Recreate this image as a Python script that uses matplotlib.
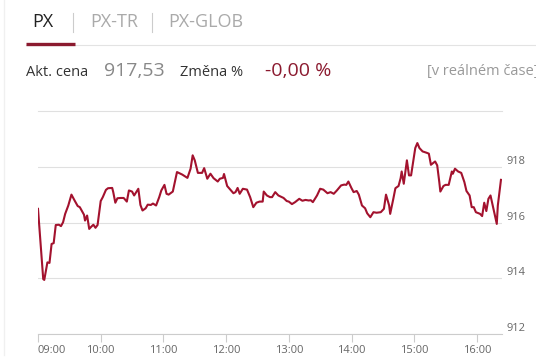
import matplotlib
matplotlib.use("Agg")
import matplotlib.pyplot as plt
from matplotlib.lines import Line2D

# ----------------------------
# Data (minutes after 09:00, index value)
# ----------------------------
minutes = [0, 5, 6, 9, 11, 13, 15, 17, 20, 22, 24, 26, 29, 32, 35, 38, 40, 44, 45, 47,
           49, 51, 53, 55, 57, 60, 62, 65, 67, 71, 72, 74, 76, 79, 82, 85, 87, 90, 92, 96,
           98, 100, 103, 105, 108, 110, 113, 116, 118, 121, 123, 125, 129, 133, 138, 143, 146, 148, 150, 153,
           157, 159, 162, 165, 168, 172, 174, 177, 178, 181, 184, 187, 189, 191, 193, 196, 200, 203, 206, 209,
           212, 215, 216, 219, 222, 224, 227, 230, 235, 238, 240, 243, 246, 250, 253, 256, 259, 261, 263, 267,
           270, 273, 277, 280, 283, 286, 290, 293, 295, 297, 300, 302, 305, 307, 310, 313, 315, 318, 321, 324,
           328, 331, 333, 336, 337, 340, 342, 345, 347, 348, 350, 353, 355, 357, 360, 361, 363, 365, 368, 372,
           374, 376, 380, 382, 384, 385, 388, 390, 393, 396, 397, 399, 402, 405, 408, 410, 413, 415, 417, 419,
           423, 425, 427, 429, 431, 433, 435, 439, 440, 443]
values = [916.49, 913.97, 913.94, 914.57, 914.55, 915.23, 915.26, 915.91, 915.92, 915.87,
          916.01, 916.31, 916.61, 917.00, 916.79, 916.59, 916.55, 916.28, 916.07, 916.25,
          915.77, 915.85, 915.92, 915.81, 915.91, 916.77, 916.91, 917.17, 917.23, 917.24,
          917.09, 916.71, 916.87, 916.88, 916.88, 916.75, 917.15, 917.11, 916.97, 917.21,
          916.63, 916.43, 916.51, 916.64, 916.63, 916.68, 916.61, 916.91, 917.15, 917.35,
          917.03, 917.00, 917.11, 917.81, 917.72, 917.60, 917.93, 918.41, 918.23, 917.78,
          917.78, 917.95, 917.57, 917.75, 917.59, 917.47, 917.57, 917.60, 917.74, 917.31,
          917.18, 917.05, 917.09, 917.24, 917.03, 917.21, 917.18, 916.91, 916.55, 916.71,
          916.75, 916.75, 917.11, 916.97, 916.91, 916.91, 917.09, 916.97, 916.88, 916.77,
          916.75, 916.66, 916.73, 916.85, 916.78, 916.81, 916.79, 916.80, 916.73, 916.97,
          917.21, 917.18, 917.05, 917.09, 917.03, 917.15, 917.33, 917.36, 917.35, 917.47,
          917.23, 917.09, 917.13, 917.00, 916.61, 916.51, 916.33, 916.19, 916.37, 916.35,
          916.37, 916.49, 917.00, 916.61, 916.31, 916.85, 917.23, 917.31, 917.59, 917.83,
          917.39, 918.23, 917.69, 917.69, 918.41, 918.67, 918.85, 918.67, 918.55, 918.50,
          918.47, 918.07, 918.19, 918.05, 917.45, 917.11, 917.31, 917.35, 917.35, 917.83,
          917.75, 917.93, 917.83, 917.78, 917.45, 917.13, 916.97, 916.55, 916.55, 916.37,
          916.31, 916.23, 916.71, 916.41, 916.85, 916.97, 916.63, 915.95, 916.61, 917.53]

x_ticks = [0, 60, 120, 180, 240, 300, 360, 420]
x_tick_labels = ["09:00", "10:00", "11:00", "12:00", "13:00", "14:00", "15:00", "16:00"]
y_ticks = [912, 914, 916, 918]

tabs = ["PX", "PX-TR", "PX-GLOB"]
price_label = "Akt. cena"
price_value = "917,53"
change_label = "Změna %"
change_value = "-0,00 %"
realtime_note = "[v reálném čase]"

# ----------------------------
# Figure
# ----------------------------
plt.rcParams["font.family"] = ["Open Sans", "DejaVu Sans"]

W, H = 536, 362
fig = plt.figure(figsize=(W / 100, H / 100), dpi=100)
fig.patch.set_facecolor("white")


def fx(x):
    return x / W


def fy(y):
    return 1 - y / H


# faint panel border on the left
fig.add_artist(Line2D([fx(4), fx(4)], [fy(0), fy(355)], color="#f0f0f0", lw=1))

# tabs
tab_x = [32, 90, 168]
tab_colors = ["#222222", "#aaaaaa", "#aaaaaa"]
for name, x, c in zip(tabs, tab_x, tab_colors):
    fig.text(fx(x), fy(22), name, fontsize=13, color=c, va="center", ha="left")
for x in [73, 152]:
    fig.add_artist(Line2D([fx(x), fx(x)], [fy(13), fy(32)], color="#cccccc", lw=0.8))

fig.add_artist(Line2D([fx(26), fx(536)], [fy(44.5), fy(44.5)], color="#e3e3e3", lw=0.8))
fig.add_artist(Line2D([fx(26), fx(75)], [fy(43.5), fy(43.5)], color="#8b1a2f", lw=2.4,
                      solid_capstyle="butt"))

# price row
fig.text(fx(26), fy(72), price_label, fontsize=10.5, color="#333333", va="center")
fig.text(fx(104), fy(71), price_value, fontsize=14, color="#888888", va="center")
fig.text(fx(180), fy(72), change_label, fontsize=10.5, color="#333333", va="center")
fig.text(fx(265), fy(71), change_value, fontsize=14, color="#8b1a2f", va="center")
fig.text(fx(427), fy(72), realtime_note, fontsize=10.5, color="#999999", va="center")

# ----------------------------
# Chart
# ----------------------------
ax = fig.add_axes([fx(38), fy(334), 464 / W, 223 / H])
ax.plot(minutes, values, color="#a3122e", lw=1.5, solid_joinstyle="round")

ax.set_xlim(0, 444)
ax.set_ylim(912, 920)

for s in ["left", "right"]:
    ax.spines[s].set_visible(False)
ax.spines["top"].set_color("#e0e0e0")
ax.spines["top"].set_linewidth(0.8)
ax.spines["bottom"].set_color("#cccccc")
ax.spines["bottom"].set_linewidth(0.8)

ax.set_yticks(y_ticks)
ax.set_yticklabels([str(v) for v in y_ticks])
ax.yaxis.tick_right()
ax.tick_params(axis="y", length=0, pad=3, labelsize=8, labelcolor="#666666")
for lbl in ax.get_yticklabels():
    lbl.set_va("bottom")
ax.grid(axis="y", color="#e0e0e0", lw=0.8)

ax.set_xticks(x_ticks)
ax.set_xticklabels(x_tick_labels)
ax.tick_params(axis="x", length=6, width=0.8, color="#cccccc", pad=2,
               labelsize=8, labelcolor="#666666")
ax.get_xticklabels()[0].set_ha("left")

fig.savefig("out.png", dpi=100)
